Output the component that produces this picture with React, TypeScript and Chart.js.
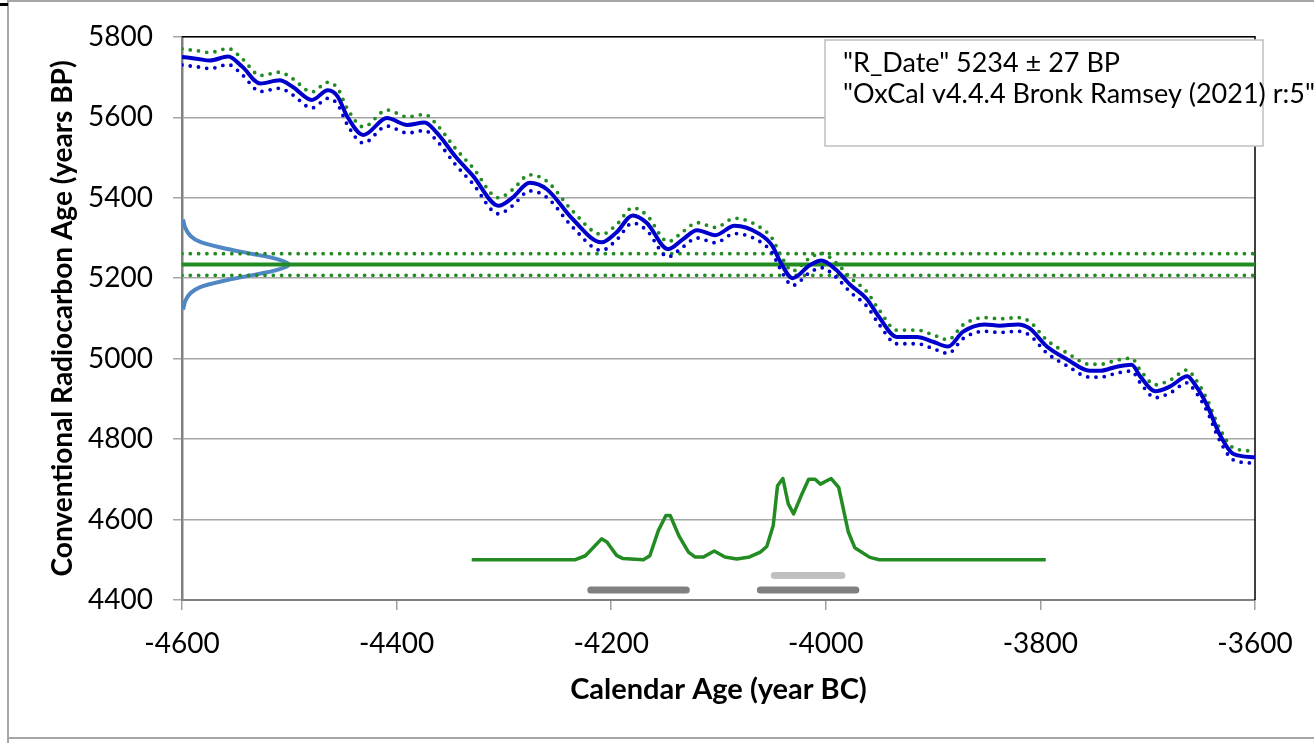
import React, { useEffect, useRef } from "react";
import { Chart, registerables } from "chart.js";

Chart.register(...registerables);

// ---- axis ticks ----
const xTicks = [-4600, -4400, -4200, -4000, -3800, -3600];
const yTicks = [4400, 4600, 4800, 5000, 5200, 5400, 5600, 5800];
const xTitle = "Calendar Age (year BC)";
const yTitle = "Conventional Radiocarbon Age (years BP)";

// ---- calibration curve (IntCal) ----
const calYear = [
  -4600, -4585, -4574, -4557, -4544, -4527, -4509, -4497, -4479, -4464,
  -4455, -4446, -4431, -4409, -4390, -4374, -4362, -4345, -4329, -4305,
  -4292, -4276, -4260, -4236, -4209, -4195, -4180, -4167, -4147, -4133,
  -4120, -4103, -4085, -4062, -4050, -4043, -4031, -4015, -4004, -3991,
  -3977, -3962, -3950, -3934, -3915, -3900, -3886, -3872, -3852, -3838,
  -3821, -3810, -3794, -3775, -3754, -3744, -3729, -3715, -3707, -3693,
  -3679, -3663, -3658, -3645, -3633, -3620, -3600,
];
const calBP = [
  5750, 5745, 5741, 5751, 5726, 5684, 5692, 5676, 5643, 5667,
  5652, 5602, 5556, 5598, 5581, 5587, 5560, 5502, 5455, 5380,
  5400, 5437, 5421, 5347, 5289, 5314, 5356, 5338, 5272, 5297,
  5319, 5307, 5330, 5310, 5281, 5244, 5200, 5232, 5244, 5222,
  5183, 5149, 5102, 5054, 5054, 5042, 5030, 5067, 5085, 5082,
  5085, 5075, 5030, 4998, 4970, 4970, 4980, 4985, 4956, 4919,
  4931, 4956, 4943, 4886, 4812, 4763, 4755,
];
const calSigma = [
  20, 20, 20, 20, 20, 20, 20, 20, 20, 20,
  20, 20, 20, 20, 20, 20, 20, 20, 20, 20,
  20, 20, 20, 20, 20, 19, 19, 19, 19, 19,
  19, 19, 19, 18, 18, 18, 18, 18, 18, 18,
  18, 18, 18, 17, 17, 17, 17, 17, 17, 17,
  17, 17, 16, 16, 16, 16, 16, 16, 16, 16,
  16, 16, 16, 15, 15, 15, 15,
];

// ---- radiocarbon date ----
const rDate = 5234;
const rSigma = 27;
const dateProbBP = [5346, 5325, 5305, 5290, 5275, 5261, 5248, 5234, 5220, 5207, 5193, 5178, 5163, 5143, 5122];
const dateProbYears = [1, 3, 8, 17, 38, 64, 88, 100, 88, 64, 38, 17, 8, 3, 1];

// ---- calibrated distribution ----
const distYear = [
  -4330, -4234, -4224, -4209, -4204, -4195, -4189, -4170, -4164, -4156,
  -4149, -4145, -4137, -4128, -4122, -4114, -4104, -4094, -4083, -4071,
  -4061, -4055, -4049, -4045, -4040, -4035, -4030, -4023, -4016, -4010,
  -4005, -3995, -3988, -3979, -3973, -3959, -3950, -3795,
];
const distBP = [
  4500, 4500, 4510, 4552, 4544, 4511, 4503, 4500, 4510, 4573,
  4610, 4610, 4560, 4519, 4507, 4507, 4522, 4507, 4502, 4507,
  4519, 4533, 4585, 4684, 4702, 4639, 4614, 4659, 4700, 4700,
  4688, 4702, 4680, 4569, 4530, 4506, 4500, 4500,
];

// ---- ranges ----
const range68Start = [-4048];
const range68End = [-3985];
const range68Level = 4461;
const range95Start = [-4219, -4061];
const range95End = [-4130, -3972];
const range95Level = 4425;

const legendLines = ['"R_Date" 5234 ± 27 BP', '"OxCal v4.4.4 Bronk Ramsey (2021) r:5"'];

const BLUE = "#0000cc";
const GREEN = "#228b22";
const LIGHTBLUE = "#4f86c4";
const FONT = "Lato";

const decor = {
  id: "decor",
  beforeDraw(chart: any) {
    const ctx = chart.ctx;
    ctx.save();
    ctx.fillStyle = "#ffffff";
    ctx.fillRect(0, 0, chart.width, chart.height);
    ctx.strokeStyle = "#a6a6a6";
    ctx.lineWidth = 2;
    ctx.beginPath();
    ctx.moveTo(8, 743);
    ctx.lineTo(8, 1);
    ctx.lineTo(1314, 1);
    ctx.moveTo(8, 738);
    ctx.lineTo(1314, 738);
    ctx.stroke();
    ctx.fillStyle = "#000";
    ctx.fillRect(0, 3, 8, 3);
    ctx.restore();
  },
  beforeDatasetsDraw(chart: any) {
    const { ctx, chartArea } = chart;
    ctx.save();
    ctx.strokeStyle = "#000";
    ctx.lineWidth = 1.5;
    ctx.beginPath();
    ctx.moveTo(chartArea.left, chartArea.top);
    ctx.lineTo(chartArea.right, chartArea.top);
    ctx.lineTo(chartArea.right, chartArea.bottom);
    ctx.stroke();
    ctx.restore();
  },
  afterDraw(chart: any) {
    const ctx = chart.ctx;
    ctx.save();
    ctx.fillStyle = "#fff";
    ctx.fillRect(825, 40, 438, 106);
    ctx.strokeStyle = "#bfbfbf";
    ctx.lineWidth = 1.5;
    ctx.strokeRect(825, 40, 438, 106);
    ctx.fillStyle = "#000";
    ctx.font = `27px ${FONT}`;
    ctx.textBaseline = "alphabetic";
    ctx.textAlign = "left";
    legendLines.forEach((t, i) => ctx.fillText(t, 843, 72 + i * 31));
    ctx.restore();
  },
};

const pts = (xs: number[], ys: number[]) => xs.map((x, i) => ({ x, y: ys[i] }));

export default function App() {
  const ref = useRef<HTMLCanvasElement>(null);
  useEffect(() => {
    const base = { pointRadius: 0, fill: false };
    const dotted = { borderDash: [0, 8.3], borderCapStyle: "round", borderWidth: 3.8 };
    const datasets: any[] = [
      { ...base, data: pts(calYear, calBP), borderColor: BLUE, borderWidth: 4, cubicInterpolationMode: "monotone" },
      { ...base, ...dotted, data: calYear.map((x, i) => ({ x, y: calBP[i] + calSigma[i] })), borderColor: GREEN, cubicInterpolationMode: "monotone" },
      { ...base, ...dotted, data: calYear.map((x, i) => ({ x, y: calBP[i] - calSigma[i] })), borderColor: BLUE, cubicInterpolationMode: "monotone" },
      { ...base, data: [{ x: xTicks[0], y: rDate }, { x: xTicks[xTicks.length - 1], y: rDate }], borderColor: GREEN, borderWidth: 4 },
      { ...base, ...dotted, data: [{ x: xTicks[0], y: rDate + rSigma }, { x: xTicks[xTicks.length - 1], y: rDate + rSigma }], borderColor: GREEN },
      { ...base, ...dotted, data: [{ x: xTicks[0], y: rDate - rSigma }, { x: xTicks[xTicks.length - 1], y: rDate - rSigma }], borderColor: GREEN },
      { ...base, data: dateProbBP.map((b, i) => ({ x: xTicks[0] + dateProbYears[i], y: b })), borderColor: LIGHTBLUE, borderWidth: 4, tension: 0.3 },
      { ...base, data: pts(distYear, distBP), borderColor: GREEN, borderWidth: 3.5, tension: 0, borderJoinStyle: "round" },
      ...range68Start.map((s, i) => ({ ...base, data: [{ x: s, y: range68Level }, { x: range68End[i], y: range68Level }], borderColor: "#c0c0c0", borderWidth: 7, borderCapStyle: "round" })),
      ...range95Start.map((s, i) => ({ ...base, data: [{ x: s, y: range95Level }, { x: range95End[i], y: range95Level }], borderColor: "#808080", borderWidth: 7, borderCapStyle: "round" })),
    ];
    const chart = new Chart(ref.current as HTMLCanvasElement, {
      type: "line",
      data: { datasets },
      plugins: [decor],
      options: {
        responsive: false,
        animation: false,
        devicePixelRatio: 1,
        layout: { padding: { left: 0, top: 33, right: 59, bottom: 0 } },
        plugins: { legend: { display: false }, tooltip: { enabled: false } },
        scales: {
          x: {
            type: "linear",
            min: xTicks[0],
            max: xTicks[xTicks.length - 1],
            afterBuildTicks: (s: any) => { s.ticks = xTicks.map((v) => ({ value: v })); },
            afterFit: (s: any) => { s.height = 143; },
            ticks: { callback: (v: any) => String(v), font: { family: FONT, size: 28 }, color: "#000", padding: 17, maxRotation: 0 },
            grid: { drawOnChartArea: false, drawTicks: true, tickLength: 10, color: "#a0a0a0", lineWidth: 1.5 },
            border: { display: true, color: "#808080", width: 2 },
            title: { display: true, text: xTitle, font: { family: FONT, size: 29, weight: "bold" }, color: "#000", padding: { top: 0, bottom: 36 } },
          },
          y: {
            type: "linear",
            min: yTicks[0],
            max: yTicks[yTicks.length - 1],
            afterBuildTicks: (s: any) => { s.ticks = yTicks.map((v) => ({ value: v })); },
            afterFit: (s: any) => { s.width = 182; },
            ticks: { callback: (v: any) => String(v), font: { family: FONT, size: 28 }, color: "#000", padding: 20 },
            grid: { color: "#a6a6a6", lineWidth: 1.5, tickLength: 9 },
            border: { display: true, color: "#808080", width: 2.5 },
            title: { display: true, text: yTitle, font: { family: FONT, size: 28, weight: "bold" }, color: "#000", padding: { top: 46, bottom: 0 } },
          },
        },
      } as any,
    });
    return () => chart.destroy();
  }, []);
  return (
    <div style={{ position: "absolute", left: 0, top: 0, width: 1314, height: 743 }}>
      <canvas ref={ref} width={1314} height={743} style={{ display: "block" }} />
    </div>
  );
}
